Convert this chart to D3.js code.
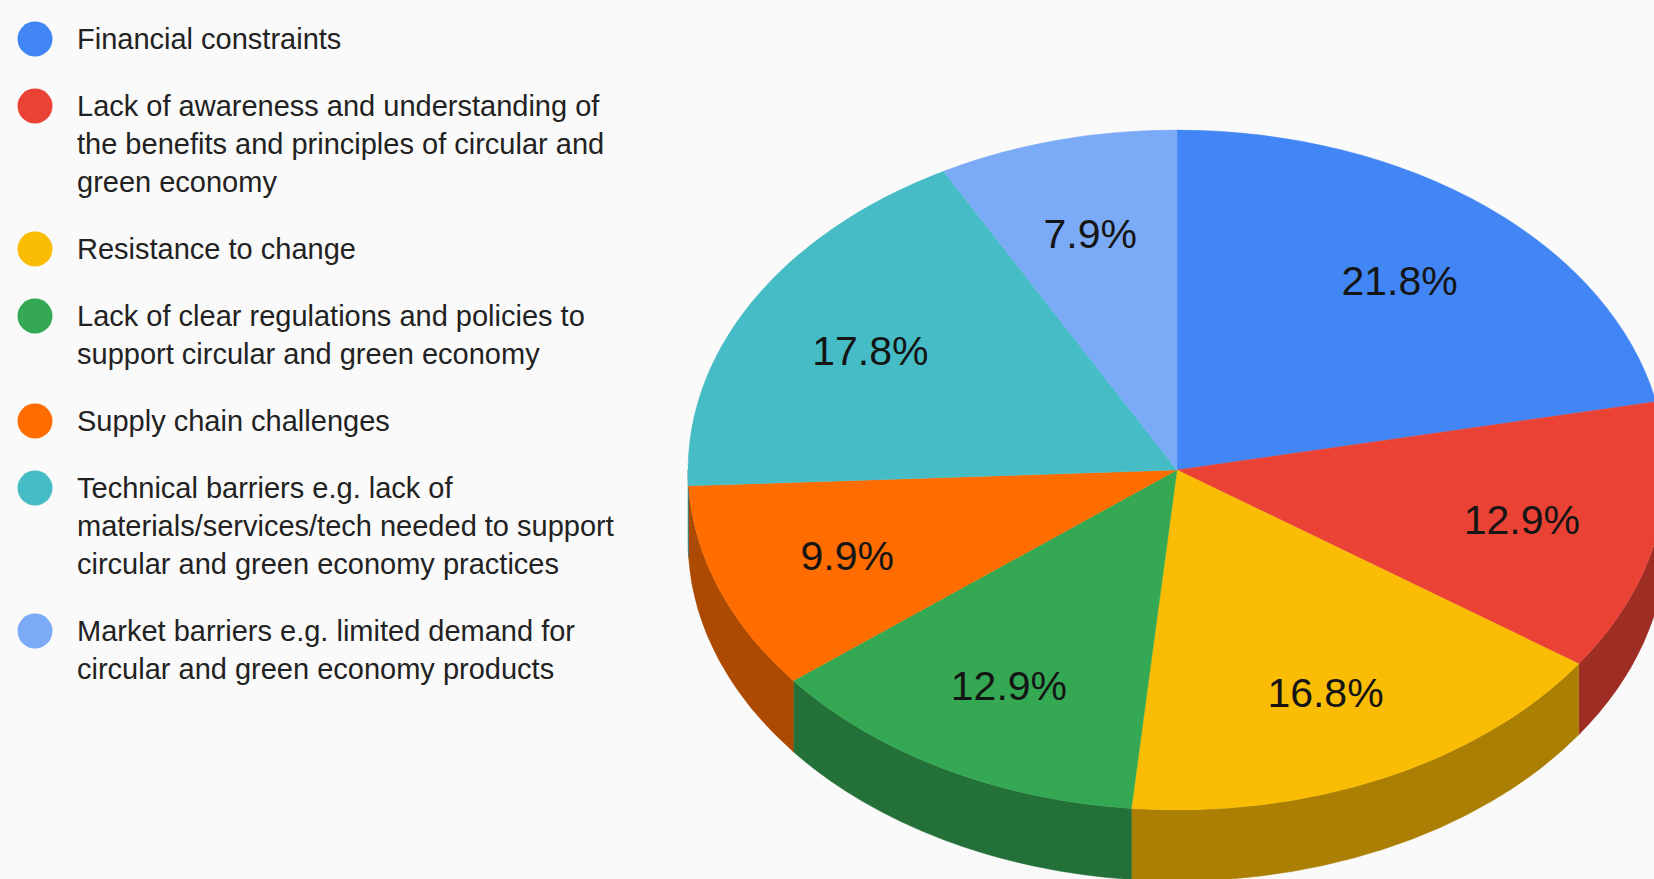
<!DOCTYPE html>
<html>
<head>
<meta charset="utf-8">
<script src="https://cdn.jsdelivr.net/npm/d3@7"></script>
<style>
  html, body { margin: 0; padding: 0; background: #fafafa; }
  svg { display: block; }
</style>
</head>
<body>
<svg id="chart" width="1654" height="879"></svg>
<script>
// ---- data ----
const categories = [
  "Financial constraints",
  "Lack of awareness and understanding of the benefits and principles of circular and green economy",
  "Resistance to change",
  "Lack of clear regulations and policies to support circular and green economy",
  "Supply chain challenges",
  "Technical barriers e.g. lack of materials/services/tech needed to support circular and green economy practices",
  "Market barriers e.g. limited demand for circular and green economy products"
];
const counts = [22, 13, 17, 13, 10, 18, 8];
const colors = ["#4285f4", "#ea4335", "#fbbc04", "#34a853", "#ff6d01", "#46bdc6", "#7baaf7"];

// ---- layout ----
const W = 1654, H = 879;
const cx = 1177, cy = 470, rx = 489, ry = 340, depth = 71;
const fontFam = "'Liberation Sans', Arial, sans-serif";

const svg = d3.select("#chart");
svg.append("rect").attr("width", W).attr("height", H).attr("fill", "#fafafa");

const total = d3.sum(counts);
const pieData = d3.pie().sort(null).value(d => d)(counts);

const ex = a => cx + rx * Math.sin(a);
const ey = a => cy - ry * Math.cos(a);

// ---- side walls (front half only) ----
const walls = svg.append("g");
pieData.forEach((d, i) => {
  const a1 = Math.max(d.startAngle, Math.PI / 2);
  const a2 = Math.min(d.endAngle, 3 * Math.PI / 2);
  if (a2 <= a1) return;
  const p = `M${ex(a1)},${ey(a1)} A${rx},${ry} 0 0 1 ${ex(a2)},${ey(a2)} ` +
            `L${ex(a2)},${ey(a2) + depth} A${rx},${ry} 0 0 0 ${ex(a1)},${ey(a1) + depth} Z`;
  const c = d3.color(colors[i]).darker(1.1);
  walls.append("path").attr("d", p)
    .attr("fill", c).attr("stroke", c).attr("stroke-width", 0.5);
});

// ---- top faces ----
const arcGen = d3.arc().innerRadius(0).outerRadius(rx);
const topG = svg.append("g").attr("transform", `translate(${cx},${cy}) scale(1,${ry / rx})`);
topG.selectAll("path").data(pieData).join("path")
  .attr("d", arcGen)
  .attr("fill", (d, i) => colors[i])
  .attr("stroke", (d, i) => colors[i]).attr("stroke-width", 0.5);

// ---- slice labels ----
const fmt = d3.format(".1f");
const lab = svg.append("g");
pieData.forEach((d, i) => {
  const mid = (d.startAngle + d.endAngle) / 2;
  const x = cx + 0.72 * rx * Math.sin(mid);
  const y = cy - 0.72 * ry * Math.cos(mid);
  lab.append("text")
    .attr("x", x).attr("y", y)
    .attr("text-anchor", "middle").attr("dy", "0.36em")
    .attr("font-family", fontFam).attr("font-size", 41).attr("fill", "#151515")
    .text(fmt(d.value / total * 100) + "%");
});

// ---- legend ----
const leg = svg.append("g");
const fs = 29, maxW = 550, lineH = 38, itemGap = 67;
let yLine = 39;
categories.forEach((cat, i) => {
  const words = cat.split(" ");
  const measure = leg.append("text").attr("font-family", fontFam).attr("font-size", fs);
  const lines = [];
  let cur = "";
  words.forEach(w => {
    const t = cur ? cur + " " + w : w;
    measure.text(t);
    if (measure.node().getComputedTextLength() > maxW && cur) { lines.push(cur); cur = w; }
    else cur = t;
  });
  if (cur) lines.push(cur);
  measure.remove();

  leg.append("circle").attr("cx", 35).attr("cy", yLine).attr("r", 17.5)
    .attr("fill", colors[i]);
  lines.forEach((ln, j) => {
    leg.append("text").attr("x", 77).attr("y", yLine + j * lineH).attr("dy", "0.35em")
      .attr("font-family", fontFam).attr("font-size", fs).attr("fill", "#222")
      .text(ln);
  });
  yLine += (lines.length - 1) * lineH + itemGap;
});
</script>
</body>
</html>
